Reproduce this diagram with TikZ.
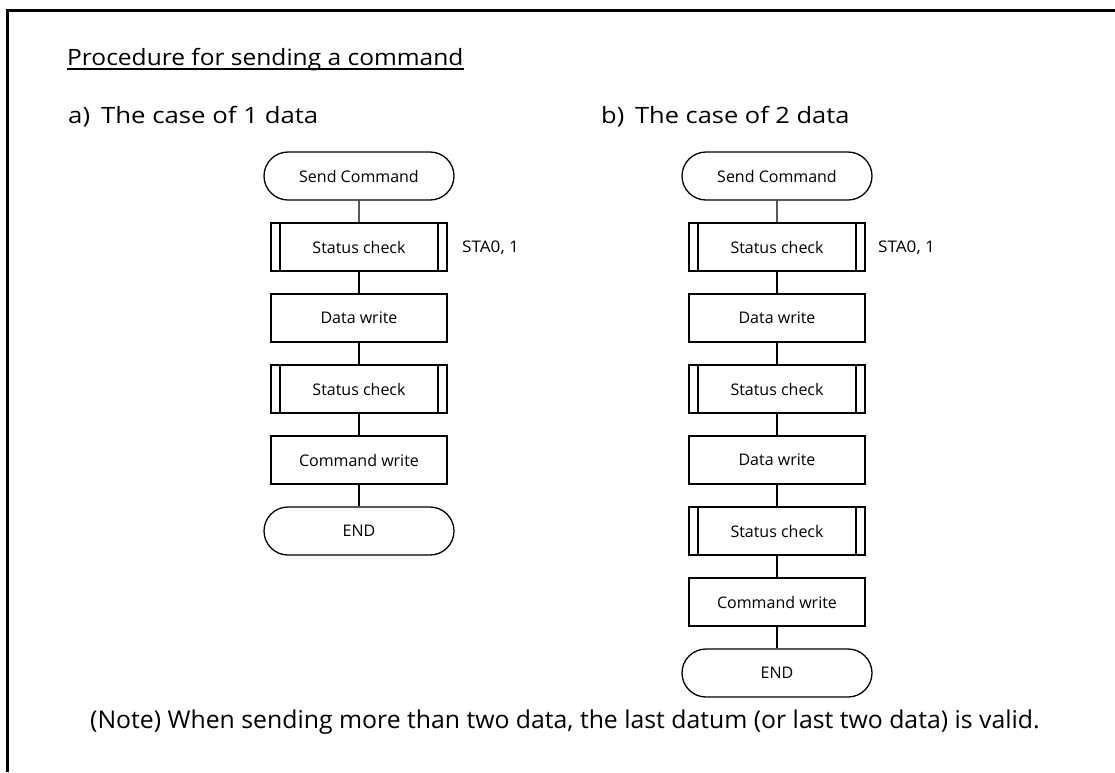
\documentclass[tikz,border=0pt]{standalone}
\usepackage{fontspec}
\setmainfont{Open Sans}
\usetikzlibrary{shapes.misc}
\begin{document}
\begin{tikzpicture}[x=1pt,y=-1pt,
  box/.style={draw, line width=1.3pt, minimum width=176pt, minimum height=48pt, inner sep=0pt, font=\fontsize{16}{19}\selectfont},
  term/.style={box, rounded rectangle, minimum width=190pt},
  proc/.style={box, rectangle},
  sub/.style={box, rectangle, path picture={
     \draw[line width=1.3pt] ([xshift=9pt]path picture bounding box.north west) -- ([xshift=9pt]path picture bounding box.south west);
     \draw[line width=1.3pt] ([xshift=-9pt]path picture bounding box.north east) -- ([xshift=-9pt]path picture bounding box.south east);}},
  link/.style={line width=1.3pt},
  head/.style={anchor=base west, inner sep=0pt, font=\fontsize{22.5}{27}\selectfont},
  lbl/.style={anchor=west, inner sep=0pt, font=\fontsize{16}{19}\selectfont}]
\useasboundingbox (0,0) rectangle (1115,772);
\draw[line width=3pt] (7.5,772) -- (7.5,10.5) -- (1115,10.5);

\node[head] (title) at (67,65) {\scalebox{1.09}[1]{Procedure for sending a command}};
\draw[line width=1.3pt] ([yshift=-4pt]title.base west) -- ([yshift=-4pt]title.base east);
\node[head] (ha) at (68,123) {\scalebox{1.145}[1]{a)\, The case of 1 data}};
\node[head] (hb) at (601,123) {\scalebox{1.13}[1]{b)\, The case of 2 data}};

% left chart
\node[term] (a1) at (359,176) {Send Command};
\node[sub]  (a2) at (359,247) {Status check};
\node[proc] (a3) at (359,318) {Data write};
\node[sub]  (a4) at (359,389) {Status check};
\node[proc] (a5) at (359,460) {Command write};
\node[term] (a6) at (359,531) {END};
\node[lbl]  (la) at (462,248) {\scalebox{1.07}[1]{STA0, 1}};
\foreach \i/\j in {a1/a2,a2/a3,a3/a4,a4/a5,a5/a6} \draw[link] (\i) -- (\j);

% right chart
\node[term] (b1) at (777,176) {Send Command};
\node[sub]  (b2) at (777,247) {Status check};
\node[proc] (b3) at (777,318) {Data write};
\node[sub]  (b4) at (777,389) {Status check};
\node[proc] (b5) at (777,460) {Data write};
\node[sub]  (b6) at (777,531) {Status check};
\node[proc] (b7) at (777,602) {Command write};
\node[term] (b8) at (777,673) {END};
\node[lbl]  (lb) at (878,248) {\scalebox{1.07}[1]{STA0, 1}};
\foreach \i/\j in {b1/b2,b2/b3,b3/b4,b4/b5,b5/b6,b6/b7,b7/b8} \draw[link] (\i) -- (\j);

\node[anchor=base west, inner sep=0pt, font=\fontsize{24.5}{29}\selectfont] (note) at (90,728)
  {\scalebox{1.012}[1]{(Note) When sending more than two data, the last datum (or last two data) is valid.}};
\end{tikzpicture}
\end{document}
